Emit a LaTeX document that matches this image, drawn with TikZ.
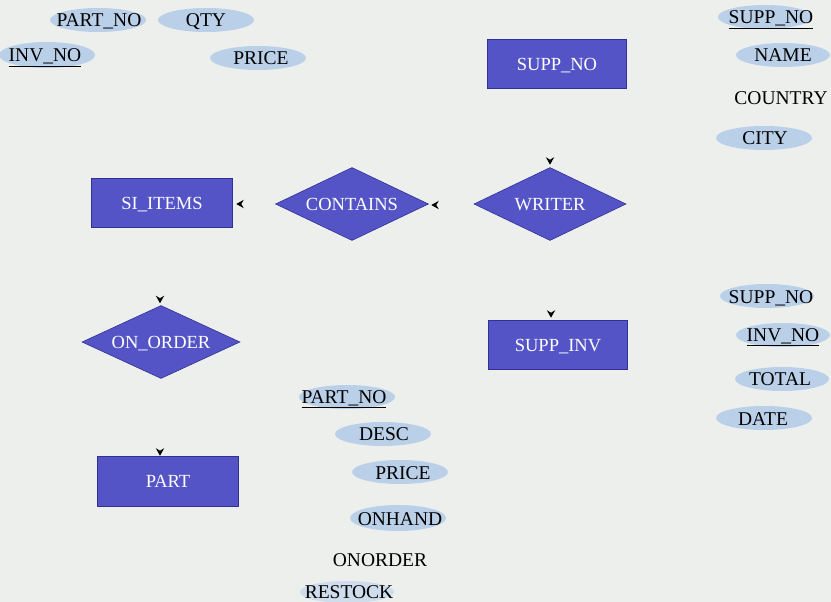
\documentclass[tikz,border=0pt]{standalone}
\usepackage{fontspec}
\setmainfont{Liberation Serif}
\usetikzlibrary{shapes.geometric}
\definecolor{bg}{RGB}{237,239,237}
\definecolor{entfill}{RGB}{84,84,198}
\definecolor{entline}{RGB}{48,48,150}
\definecolor{attfill}{RGB}{186,208,232}
\definecolor{attfaint}{RGB}{206,220,236}
\tikzset{
  entity/.style={draw=entline, line width=0.6pt, fill=entfill, text=white,
    minimum width=139pt, minimum height=49pt, inner sep=0pt, text depth=0pt,
    font=\fontsize{18.5}{20}\selectfont},
  relation/.style={diamond, aspect=2.1, draw=entline, line width=0.6pt, fill=entfill, text=white,
    minimum width=153pt, minimum height=73pt, inner sep=0pt, text depth=0pt,
    font=\fontsize{18.5}{20}\selectfont},
  attext/.style={anchor=base, inner sep=0pt, text=black,
    font=\fontsize{19.5}{21}\selectfont},
  attbg/.style={fill=attfill},
  dtip/.pic={\fill[black] (0,0) -- (-4.2,-7.5) -- (0,-5) -- (4.2,-7.5) -- cycle;},
  ltip/.pic={\fill[black] (0,0) -- (7.5,-4.2) -- (5,0) -- (7.5,4.2) -- cycle;}
}
\begin{document}
\begin{tikzpicture}[x=1pt,y=-1pt]
\fill[bg] (0,0) rectangle (831,602);
\useasboundingbox (0,0) rectangle (831,602);

% attribute ellipses
\fill[attbg] (98,20) ellipse (48 and 12);
\fill[attbg] (206,20) ellipse (48 and 12);
\fill[attbg] (47,55) ellipse (48 and 13);
\fill[attbg] (258,58) ellipse (48 and 12);
\fill[attbg] (765,17) ellipse (47 and 12);
\fill[attbg] (783,55) ellipse (47 and 12);
\fill[attbg] (764,138) ellipse (48 and 12);
\fill[attbg] (767,296) ellipse (47 and 12);
\fill[attbg] (783,335) ellipse (47 and 12);
\fill[attbg] (782,379) ellipse (47 and 12);
\fill[attbg] (764,418) ellipse (48 and 12);
\fill[attbg] (347,397) ellipse (48 and 12);
\fill[attbg] (383,434) ellipse (48 and 12);
\fill[attbg] (400,472) ellipse (48 and 12);
\fill[attbg] (398,518) ellipse (48 and 13);
\fill[attfaint] (347,592) ellipse (47 and 11);

% attribute texts
\node[attext] (a-partno) at (99,27) {PART\_NO};
\node[attext] (a-qty) at (206,27) {QTY};
\node[attext] (a-invno) at (45,62) {\underline{INV\_NO}};
\node[attext] (a-price) at (261,65) {PRICE};
\node[attext] (s-suppno) at (771,24) {\underline{SUPP\_NO}};
\node[attext] (s-name) at (783,62) {NAME};
\node[attext] (s-country) at (781,105) {COUNTRY};
\node[attext] (s-city) at (765,145) {CITY};
\node[attext] (i-suppno) at (771,303) {SUPP\_NO};
\node[attext] (i-invno) at (783,341) {\underline{INV\_NO}};
\node[attext] (i-total) at (780,385) {TOTAL};
\node[attext] (i-date) at (763,425) {DATE};
\node[attext] (p-partno) at (344,403) {\underline{PART\_NO}};
\node[attext] (p-desc) at (384,440) {DESC};
\node[attext] (p-price) at (403,479) {PRICE};
\node[attext] (p-onhand) at (400,525) {ONHAND};
\node[attext] (p-onorder) at (380,566) {ONORDER};
\node[attext] (p-restock) at (349,598) {RESTOCK};

% entities and relationships
\node[entity] (suppno) at (557,64) {SUPP\_NO};
\node[entity, minimum width=141pt] (siitems) at (162,203) {SI\_ITEMS};
\node[entity] (suppinv) at (558,345) {SUPP\_INV};
\node[entity, minimum width=141pt, minimum height=50pt] (part) at (168,481) {PART};
\node[relation] (contains) at (352,204) {CONTAINS};
\node[relation, minimum width=152pt] (writer) at (550,204) {WRITER};
\node[relation, minimum width=158pt, aspect=2.16] (onorder) at (161,342) {ON\_ORDER};

% small arrow tips
\pic at ([yshift=2.5pt]writer.north) {dtip};
\pic at ([xshift=-7pt,yshift=2.5pt]suppinv.north) {dtip};
\pic at ([xshift=-1pt,yshift=2pt]onorder.north) {dtip};
\pic at ([xshift=-8pt,yshift=0pt]part.north) {dtip};
\pic at ([xshift=3.5pt,yshift=-1pt]siitems.east) {ltip};
\pic at ([xshift=2.5pt,yshift=-1pt]contains.east) {ltip};
\end{tikzpicture}
\end{document}
